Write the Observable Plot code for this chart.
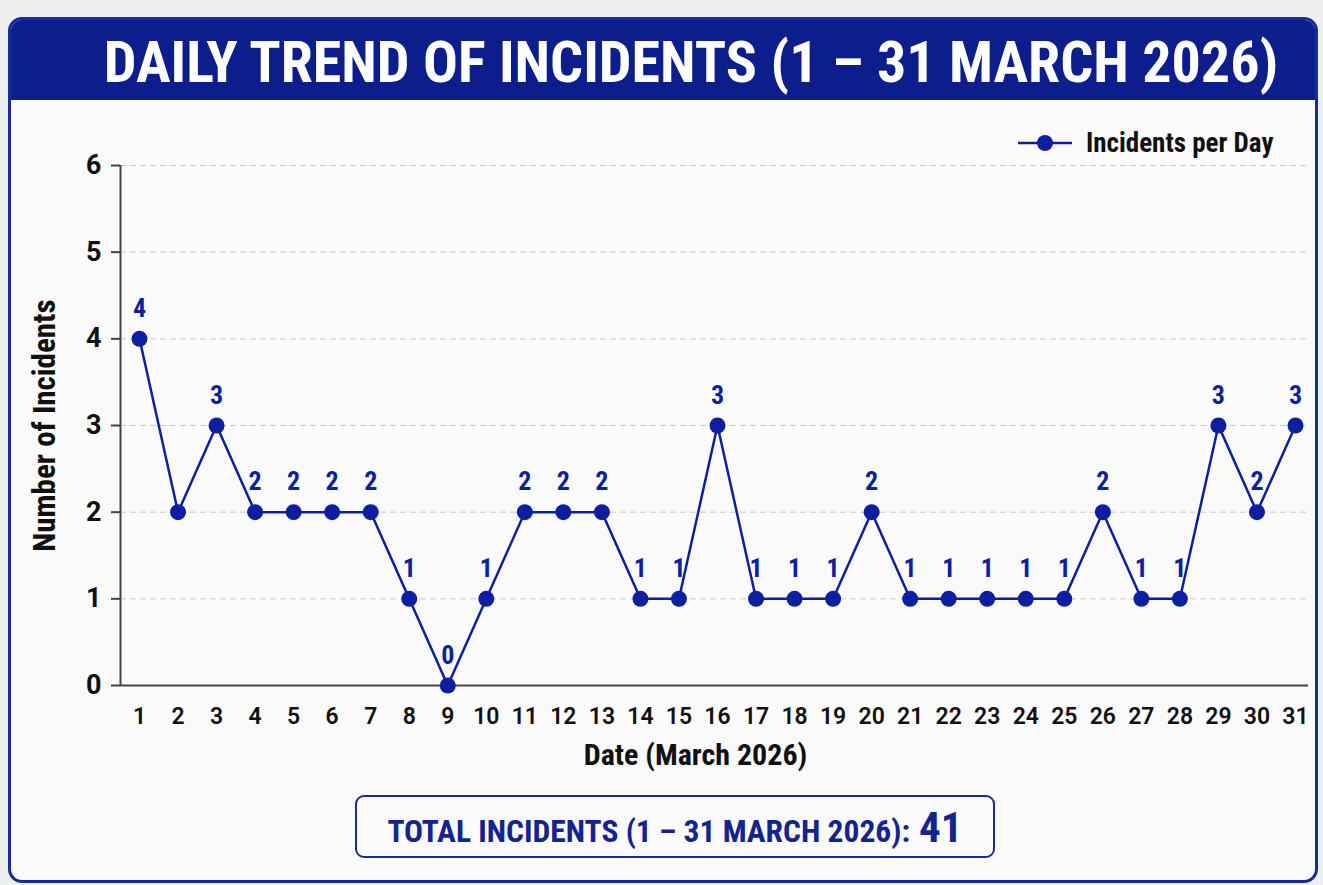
<!DOCTYPE html>
<html>
<head>
<meta charset="utf-8">
<script src="https://cdn.jsdelivr.net/npm/d3@7"></script>
<script src="https://cdn.jsdelivr.net/npm/@observablehq/plot@0.6"></script>
<style>
  html, body { margin: 0; padding: 0; }
  body { width: 1323px; height: 885px; background: #eef0f0; position: relative; overflow: hidden;
         font-family: "Roboto Condensed", "Liberation Sans Narrow", "Arial Narrow", Roboto, sans-serif; }
  #card { position: absolute; left: 8px; top: 17px; width: 1310px; height: 866px; background: #fafafa;
          border: 3px solid #1a2a9a; border-radius: 14px; box-sizing: border-box; overflow: hidden; }
  #header { position: absolute; left: 0; top: 0; width: 100%; height: 80px; background: #0b1e8c;
            color: #fff; text-align: center; }
  #header span { display: inline-block; font-size: 58px; font-weight: bold; line-height: 84px;
                 white-space: nowrap; margin-left: 56px; }
  #chart { position: absolute; left: 0; top: 120px; }
  #legend { position: absolute; left: 1016px; top: 127px; height: 32px; display: flex; align-items: center; }
  #legend svg { margin-right: 12px; }
  #legend span { font-size: 27px; font-weight: bold; color: #111; white-space: nowrap; }
  #total { position: absolute; left: 355px; top: 795px; width: 640px; height: 63px; box-sizing: border-box;
           border: 2px solid #1a2a9a; border-radius: 9px; background: #fbfbfd; text-align: center;
           color: #14238f; font-weight: bold; }
  #total span.inner { display: inline-block; white-space: nowrap; line-height: 60px; }
  #total .t { font-size: 31.5px; }
  #total .n { font-size: 43px; margin-left: 9px; }
</style>
</head>
<body>
<div id="card">
  <div id="header"><span>DAILY TREND OF INCIDENTS (1 – 31 MARCH 2026)</span></div>
</div>
<div id="chart"></div>
<div id="legend">
  <svg width="58" height="20"><line x1="2" y1="10" x2="56" y2="10" stroke="#0d1fa0" stroke-width="2.5"/><circle cx="29" cy="10" r="8" fill="#0d1fa0"/></svg>
  <span>Incidents per Day</span>
</div>
<div id="total"><span class="inner"><span class="t">TOTAL INCIDENTS (1 – 31 MARCH 2026):</span><span class="n">41</span></span></div>

<script>
const days = [1,2,3,4,5,6,7,8,9,10,11,12,13,14,15,16,17,18,19,20,21,22,23,24,25,26,27,28,29,30,31];
const incidents = [4,2,3,2,2,2,2,1,0,1,2,2,2,1,1,3,1,1,1,2,1,1,1,1,1,2,1,1,3,2,3];
const pointLabels = ["4","","3","2","2","2","2","1","0","1","2","2","2","1","1","3","1","1","1","2","1","1","1","1","1","2","1","1","3","2","3"];
const yTicks = [0,1,2,3,4,5,6];
const xTitle = "Date (March 2026)";
const yTitle = "Number of Incidents";

const data = days.map((d, i) => ({day: d, value: incidents[i], label: pointLabels[i]}));
const blue = "#0d1fa0";
const font = '"Roboto Condensed", "Liberation Sans Narrow", "Arial Narrow", Roboto, sans-serif';

const chart = Plot.plot({
  width: 1323,
  height: 655,
  marginTop: 45,
  marginBottom: 90,
  marginLeft: 120,
  marginRight: 15,
  style: {fontFamily: font, background: "transparent", color: "#111", overflow: "visible"},
  x: {domain: [1, 31], insetLeft: 19, insetRight: 13},
  y: {domain: [0, 6]},
  marks: [
    Plot.gridY(yTicks.filter(d => d > 0), {stroke: "#c8c8c8", strokeOpacity: 1, strokeDasharray: "6,4", strokeWidth: 1}),
    Plot.ruleY([0], {stroke: "#444", strokeWidth: 2}),
    Plot.ruleX([1], {dx: -19, stroke: "#444", strokeWidth: 2}),
    Plot.axisY(yTicks, {tickSize: 9, tickPadding: 10, fontSize: 27, fontWeight: "bold", fontFamily: "Roboto, sans-serif", stroke: "#444", strokeWidth: 2, tickFormat: d => String(d), label: null}),
    Plot.axisX(days, {tickSize: 0, tickPadding: 22, fontSize: 23, fontWeight: 600, fontFamily: "Roboto, sans-serif", tickFormat: d => String(d), label: null}),
    Plot.text([xTitle], {frameAnchor: "bottom", lineAnchor: "middle", dx: -19, dy: 70, fontSize: 30, fontWeight: "bold", fill: "#111"}),
    Plot.text([yTitle], {frameAnchor: "left", textAnchor: "middle", dx: -75, rotate: -90, fontSize: 31, fontWeight: "bold", fill: "#111"}),
    Plot.line(data, {x: "day", y: "value", stroke: blue, strokeWidth: 2.5}),
    Plot.dot(data, {x: "day", y: "value", r: 8, fill: blue, stroke: "none"}),
    Plot.text(data, {x: "day", y: "value", text: "label", dy: -30, fill: blue, fontSize: 26, fontWeight: "bold"})
  ]
});
document.getElementById("chart").appendChild(chart);
</script>
</body>
</html>
